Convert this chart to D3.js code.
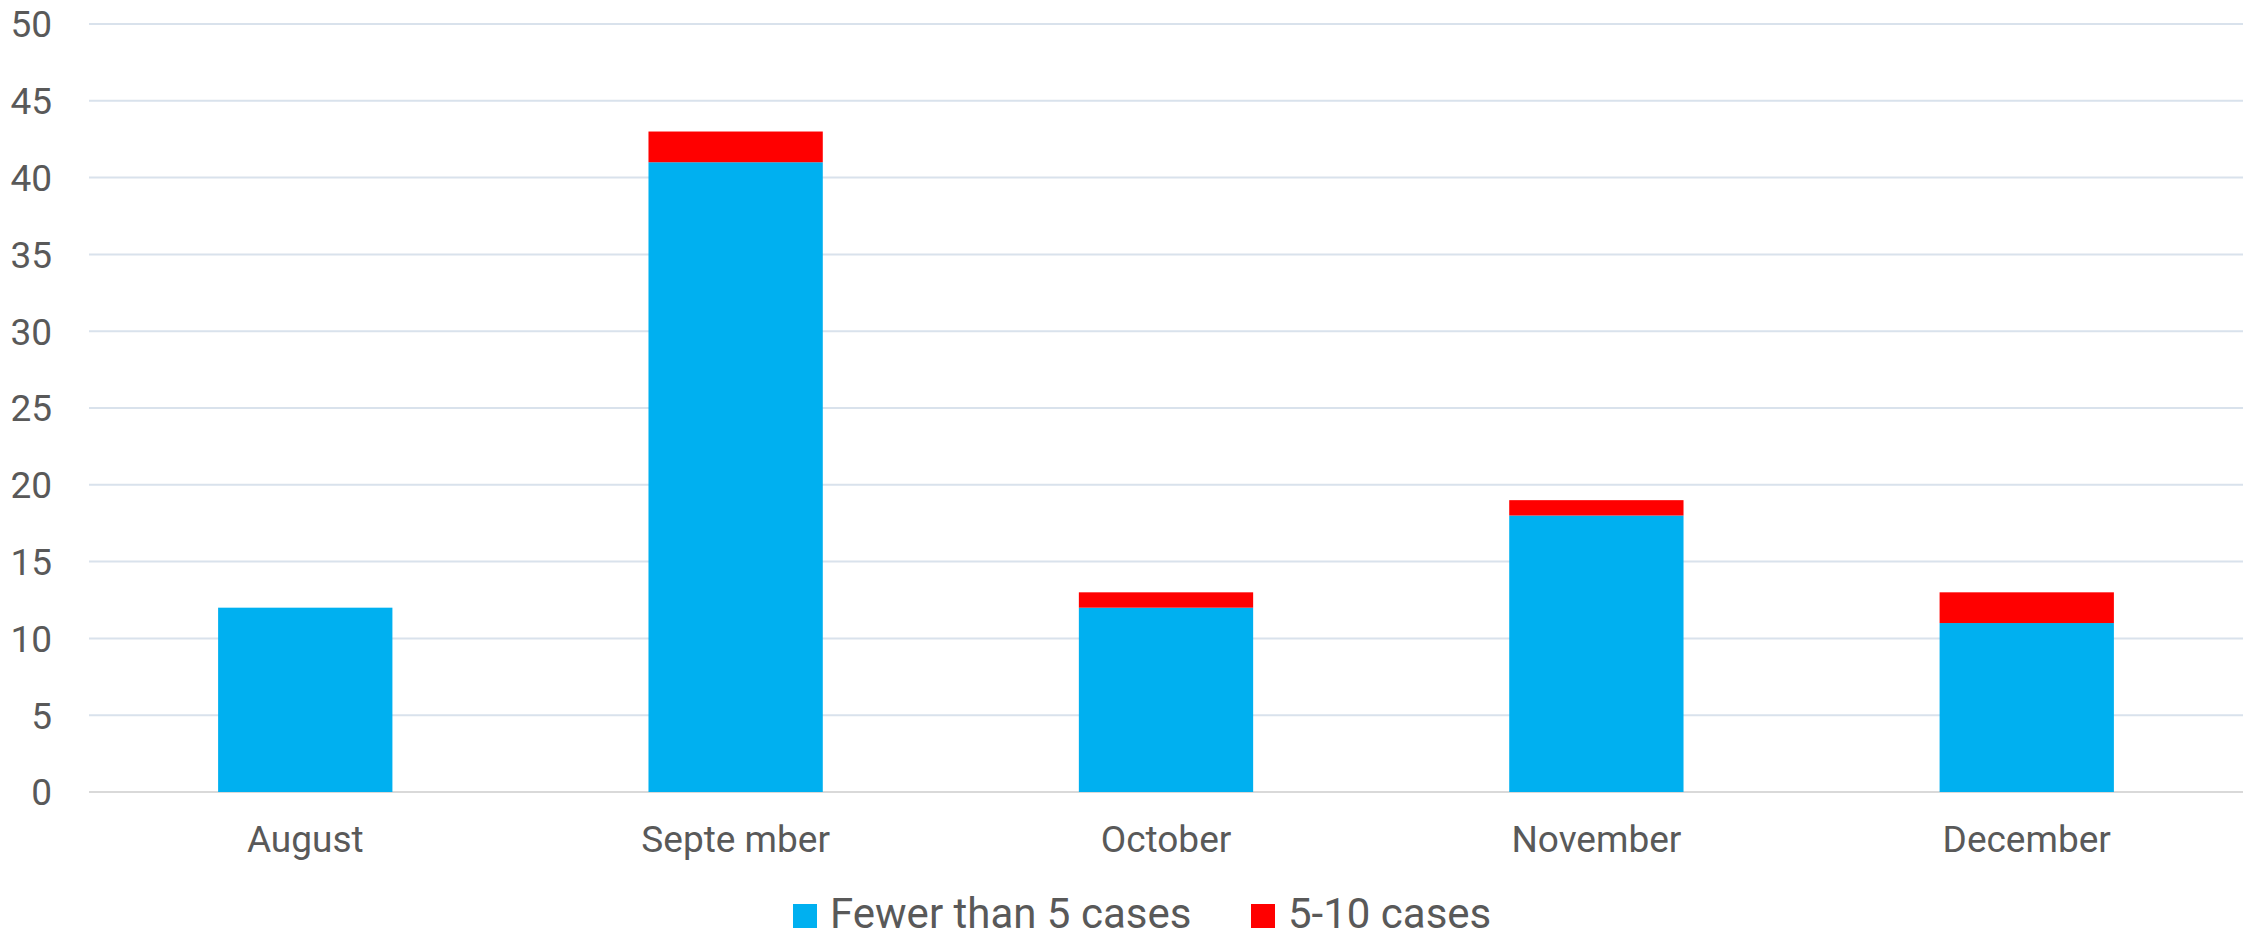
<!DOCTYPE html>
<html>
<head>
<meta charset="utf-8">
<script src="https://cdn.jsdelivr.net/npm/d3@7"></script>
<style>
  html, body { margin: 0; padding: 0; background: #fff; }
  svg text { font-family: Roboto, "Noto Sans", sans-serif; fill: #595959; }
</style>
</head>
<body>
<div id="chart"></div>
<script>
// chart data
const months = ["August", "Septe mber", "October", "November", "December"];
const fewerThan5 = [12, 41, 12, 18, 11];
const fiveTo10 = [0, 2, 1, 1, 2];
const seriesNames = ["Fewer than 5 cases", "5-10 cases"];
const seriesColors = ["#00B0F0", "#FF0000"];
const yTicks = [0, 5, 10, 15, 20, 25, 30, 35, 40, 45, 50];

const width = 2254;
const height = 936;
const margin = { top: 24, right: 11, bottom: 144, left: 89 };

const svg = d3.select("#chart")
  .append("svg")
  .attr("width", width)
  .attr("height", height);

const x = d3.scaleBand()
  .domain(months)
  .range([margin.left, width - margin.right])
  .paddingInner(0.595)
  .paddingOuter(0.3);

const y = d3.scaleLinear()
  .domain([0, 50])
  .range([height - margin.bottom, margin.top]);

// gridlines
svg.append("g")
  .selectAll("line")
  .data(yTicks)
  .join("line")
  .attr("x1", margin.left)
  .attr("x2", width - margin.right)
  .attr("y1", d => y(d))
  .attr("y2", d => y(d))
  .attr("stroke", d => d === 0 ? "#D9D9D9" : "#D9E2EC")
  .attr("stroke-width", 2);

// y tick labels
svg.append("g")
  .selectAll("text")
  .data(yTicks)
  .join("text")
  .attr("x", 52)
  .attr("y", d => y(d))
  .attr("dy", "0.36em")
  .attr("text-anchor", "end")
  .style("font-size", "37px")
  .text(d => d);

// stacked bars
const table = months.map((m, i) => ({ month: m, a: fewerThan5[i], b: fiveTo10[i] }));
const stacked = d3.stack().keys(["a", "b"])(table);

svg.append("g")
  .selectAll("g")
  .data(stacked)
  .join("g")
  .attr("fill", (d, i) => seriesColors[i])
  .selectAll("rect")
  .data(d => d)
  .join("rect")
  .attr("x", d => x(d.data.month))
  .attr("width", x.bandwidth())
  .attr("y", d => y(d[1]))
  .attr("height", d => y(d[0]) - y(d[1]));

// x labels
svg.append("g")
  .selectAll("text")
  .data(months)
  .join("text")
  .attr("x", d => x(d) + x.bandwidth() / 2)
  .attr("y", 852)
  .attr("text-anchor", "middle")
  .style("font-size", "37px")
  .text(d => d);

// legend
const legendX = [793, 1251];
const legend = svg.append("g")
  .selectAll("g")
  .data(seriesNames)
  .join("g")
  .attr("transform", (d, i) => `translate(${legendX[i]},904)`);

legend.append("rect")
  .attr("width", 24)
  .attr("height", 24)
  .attr("fill", (d, i) => seriesColors[i]);

legend.append("text")
  .attr("x", 37)
  .attr("y", 24)
  .style("font-size", "42px")
  .text(d => d);
</script>
</body>
</html>
